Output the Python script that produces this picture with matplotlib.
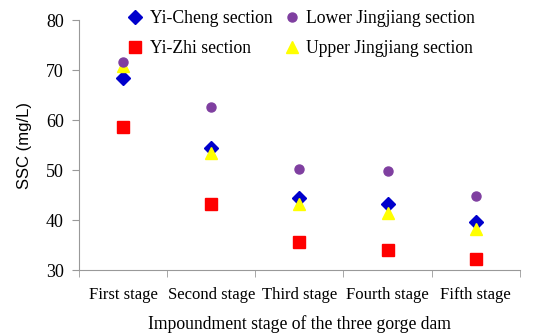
import numpy as np
import matplotlib.pyplot as plt

# ---------------- data ----------------
stages = ['First stage', 'Second stage', 'Third stage', 'Fourth stage', 'Fifth stage']
yi_cheng = [68.5, 54.5, 44.5, 43.2, 39.6]
yi_zhi = [58.7, 43.2, 35.6, 34.0, 32.2]
upper_jj = [70.8, 53.5, 43.2, 41.5, 38.3]
lower_jj = [71.7, 62.7, 50.3, 49.9, 44.8]

plt.rcParams['font.family'] = 'Liberation Serif'

fig = plt.figure(figsize=(5.5, 3.36), dpi=100)
ax = fig.add_axes([0.1436, 0.196, 0.8014, 0.744])

x = np.arange(len(stages))
h1, = ax.plot(x, yi_cheng, 'D', color='#0000CC', ms=7, mec='#0000CC', label='Yi-Cheng section', zorder=3)
h2, = ax.plot(x, yi_zhi, 's', color='#FF0000', ms=8.5, mec='#FF0000', label='Yi-Zhi section', zorder=3)
h3, = ax.plot(x, upper_jj, '^', color='#FFFF00', ms=8, mec='#FFFF00', label='Upper Jingjiang section', zorder=4)
h4, = ax.plot(x, lower_jj, 'o', color='#7F3FA0', ms=6.5, mec='#7F3FA0', label='Lower Jingjiang section', zorder=5)

ax.set_xlim(-0.5, len(stages) - 0.5)
ax.set_ylim(30, 80)
ax.set_yticks([30, 40, 50, 60, 70, 80])
ax.set_xticks(x)
ax.set_xticklabels(stages)
ax.set_xticks(np.arange(-0.5, len(stages)), minor=True)
ax.tick_params(axis='x', which='major', length=0, pad=12, labelsize=12)
ax.tick_params(axis='x', which='minor', length=5, color='#999999')
ax.tick_params(axis='y', length=5, color='#999999', labelsize=13, pad=6)

for s in ['top', 'right']:
    ax.spines[s].set_visible(False)
for s in ['left', 'bottom']:
    ax.spines[s].set_color('#999999')

ax.set_xlabel('Impoundment stage of the three gorge dam', fontsize=12.7, labelpad=9)
ax.set_ylabel('SSC (mg/L)', fontsize=12, family='Liberation Sans', labelpad=10)

ax.legend(handles=[h1, h2, h4, h3], loc='upper left', bbox_to_anchor=(0.096, 1.068), ncol=2,
          frameon=False, fontsize=12.7, handlelength=0.8, handletextpad=0.4,
          columnspacing=0.7, labelspacing=0.75, borderaxespad=0)

fig.savefig('out.png', dpi=100)
